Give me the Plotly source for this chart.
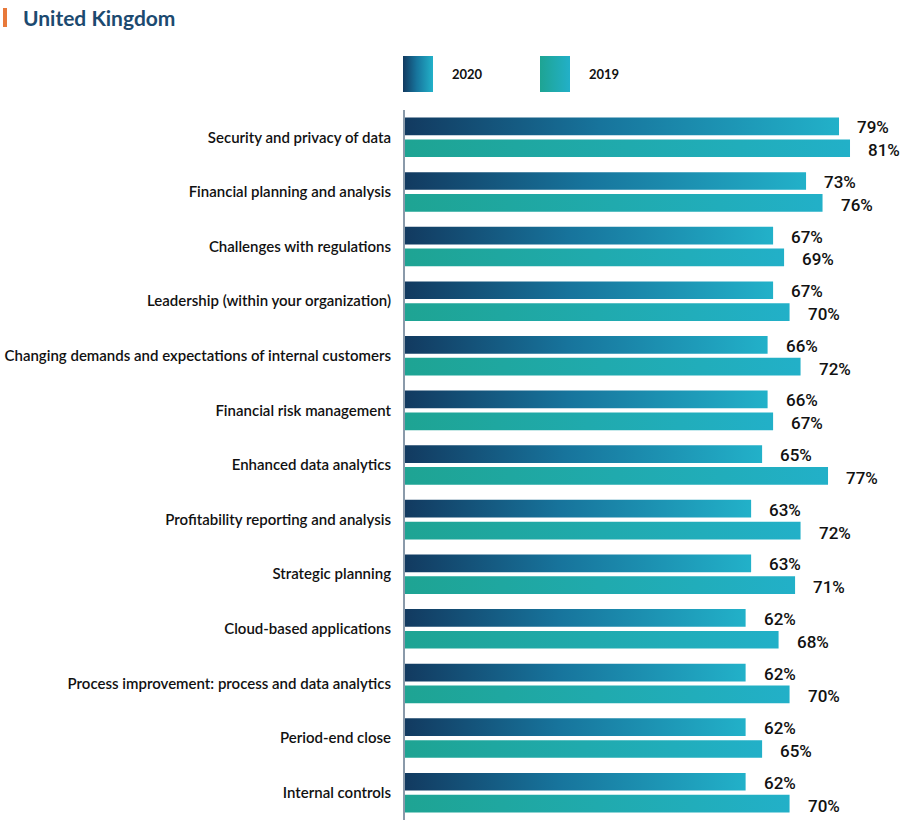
import plotly.graph_objects as go

# survey items, top to bottom
categories = [
    "Security and privacy of data",
    "Financial planning and analysis",
    "Challenges with regulations",
    "Leadership (within your organization)",
    "Changing demands and expectations of internal customers",
    "Financial risk management",
    "Enhanced data analytics",
    "Profitability reporting and analysis",
    "Strategic planning",
    "Cloud-based applications",
    "Process improvement: process and data analytics",
    "Period-end close",
    "Internal controls",
]
vals_2020 = [79, 73, 67, 67, 66, 66, 65, 63, 63, 62, 62, 62, 62]
vals_2019 = [81, 76, 69, 70, 72, 67, 77, 72, 71, 68, 70, 65, 70]
series_names = ["2020", "2019"]

grad_2020 = [[0, "#123a60"], [0.45, "#17749c"], [1, "#22b1c9"]]
grad_2019 = [[0, "#1ea493"], [1, "#22b0c8"]]

BAR_H = 0.162
OFFSET = 0.2
W, H = 900, 828
PLOT_BOTTOM = 820

fig = go.Figure()


def bar_trace(value, center, scale, xaxis="x", yaxis="y"):
    return go.Scatter(
        x=[0, value, value, 0, 0],
        y=[center - BAR_H, center - BAR_H, center + BAR_H, center + BAR_H, center - BAR_H],
        mode="lines", line=dict(width=0), fill="toself",
        fillgradient=dict(type="horizontal", colorscale=scale),
        hoverinfo="skip", showlegend=False, xaxis=xaxis, yaxis=yaxis,
    )


for i, cat in enumerate(categories):
    fig.add_trace(bar_trace(vals_2020[i], i - OFFSET, grad_2020))
    fig.add_trace(bar_trace(vals_2019[i], i + OFFSET, grad_2019))

annotations = []
for i in range(len(categories)):
    for v, yc, ys in [(vals_2020[i], i - OFFSET, -1), (vals_2019[i], i + OFFSET, -2)]:
        annotations.append(dict(
            x=v, y=yc, xref="x", yref="y", text=f"{v}%", showarrow=False,
            xanchor="left", yanchor="middle", xshift=16, yshift=ys,
            font=dict(family="Roboto", size=17, weight=500, color="#111111"),
        ))


def py(pix):
    # screen row -> paper fraction (paper spans rows 0..PLOT_BOTTOM)
    return (PLOT_BOTTOM - pix) / PLOT_BOTTOM


# legend drawn on a helper axis pair (x in screen pixels)
leg_x = [(403, 433), (540, 570)]
for (x0, x1), name, scale in zip(leg_x, series_names, [grad_2020, grad_2019]):
    fig.add_trace(go.Scatter(
        x=[x0, x1, x1, x0, x0], y=[0, 0, 1, 1, 0], mode="lines",
        line=dict(width=0), fill="toself",
        fillgradient=dict(type="horizontal", colorscale=scale),
        hoverinfo="skip", showlegend=False, xaxis="x2", yaxis="y2",
    ))
    annotations.append(dict(
        x=x1 + 17, y=0.5, xref="x2", yref="y2", text=f"<b>{name}</b>",
        showarrow=False, xanchor="left", yanchor="middle",
        font=dict(family="Lato", size=13, color="#111111"),
    ))

# title
annotations.append(dict(
    x=21 / W, y=py(17), xref="paper", yref="paper", text="<b>United Kingdom</b>",
    showarrow=False, xanchor="left", yanchor="middle",
    font=dict(family="Lato", size=21, color="#1c4a70"),
))

fig.update_layout(
    width=W, height=H,
    margin=dict(l=0, r=0, t=0, b=H - PLOT_BOTTOM),
    paper_bgcolor="white", plot_bgcolor="white",
    showlegend=False,
    annotations=annotations,
    shapes=[dict(type="rect", xref="paper", yref="paper",
                 x0=3 / W, x1=7 / W, y0=py(27), y1=py(8),
                 fillcolor="#e8793a", line=dict(width=0))],
    xaxis=dict(domain=[405 / W, 1], range=[0, 90.1], visible=False, fixedrange=True),
    yaxis=dict(
        domain=[0, py(110)], range=[len(categories) - 0.5, -0.5],
        tickmode="array", tickvals=list(range(len(categories))), ticktext=categories,
        showline=True, linecolor="#8a9aaa", linewidth=2, showgrid=False,
        zeroline=False, ticks="", ticklabelstandoff=9,
        tickfont=dict(family="Lato", size=15, weight=600, color="#111111"),
    ),
    xaxis2=dict(domain=[0, 1], range=[0, W], visible=False, anchor="y2"),
    yaxis2=dict(domain=[py(92), py(56)], range=[0, 1], visible=False, anchor="x2"),
)

# drop the default 8px body margin so the figure sits at the window corner
fig.write_html("out.html", config={"displayModeBar": False},
               post_script="document.body.style.margin = '0';")
